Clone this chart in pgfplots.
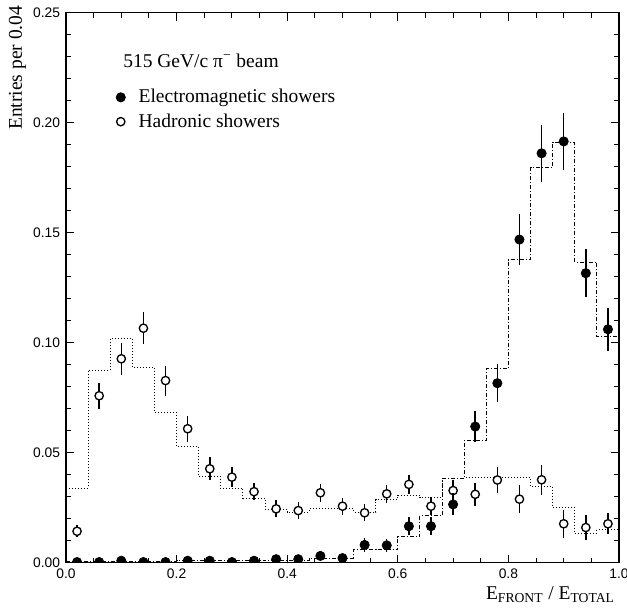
\documentclass[border=0pt]{standalone}
\usepackage{fontspec}
\setmainfont{Liberation Serif}
\newfontfamily\sansfont{Liberation Sans}
\usepackage{pgfplots}
\pgfplotsset{compat=1.18}

% Hadronic showers: measured points (x, entries, error)
\pgfplotstableread{
x    y      e
0.02 0.0142 0.0027
0.06 0.0758 0.0058
0.10 0.0926 0.0072
0.14 0.1065 0.0074
0.18 0.0827 0.0068
0.22 0.0608 0.0060
0.26 0.0426 0.0053
0.30 0.0388 0.0045
0.34 0.0322 0.0040
0.38 0.0244 0.0038
0.42 0.0236 0.0038
0.46 0.0317 0.0040
0.50 0.0256 0.0038
0.54 0.0226 0.0038
0.58 0.0312 0.0040
0.62 0.0355 0.0042
0.66 0.0256 0.0040
0.70 0.0327 0.0048
0.74 0.0310 0.0053
0.78 0.0375 0.0058
0.82 0.0288 0.0063
0.86 0.0376 0.0067
0.90 0.0176 0.0064
0.94 0.0159 0.0055
0.98 0.0176 0.0047
}\hadpts

% Electromagnetic showers: measured points (x, entries, error)
\pgfplotstableread{
x    y      e
0.02 0.0002 0.0
0.06 0.0002 0.0
0.10 0.0008 0.0
0.14 0.0002 0.0
0.18 0.0002 0.0
0.22 0.0008 0.0
0.26 0.0008 0.0
0.30 0.0002 0.0
0.34 0.0008 0.0
0.38 0.0015 0.0008
0.42 0.0015 0.0008
0.46 0.0030 0.0010
0.50 0.0020 0.0010
0.54 0.0080 0.0030
0.58 0.0078 0.0030
0.62 0.0165 0.0040
0.66 0.0165 0.0040
0.70 0.0264 0.0050
0.74 0.0618 0.0072
0.78 0.0815 0.0087
0.82 0.1468 0.0115
0.86 0.1860 0.0130
0.90 0.1914 0.0131
0.94 0.1315 0.0108
0.98 0.1060 0.0097
}\empts

% Simulated distributions, left bin edges (last row closes the final bin)
\pgfplotstableread{
x    y
0.00 0.0338
0.04 0.0873
0.08 0.1017
0.12 0.0888
0.16 0.0683
0.20 0.0529
0.24 0.0392
0.28 0.0335
0.32 0.0290
0.36 0.0240
0.40 0.0229
0.44 0.0244
0.48 0.0244
0.52 0.0229
0.56 0.0286
0.60 0.0306
0.64 0.0295
0.68 0.0382
0.72 0.0385
0.76 0.0385
0.80 0.0385
0.84 0.0347
0.88 0.0252
0.92 0.0133
0.96 0.0148
1.00 0.0148
}\hadmc

\pgfplotstableread{
x    y
0.00 0.0003
0.04 0.0003
0.08 0.0003
0.12 0.0003
0.16 0.0003
0.20 0.0008
0.24 0.0008
0.28 0.0008
0.32 0.0008
0.36 0.0010
0.40 0.0010
0.44 0.0020
0.48 0.0020
0.52 0.0058
0.56 0.0058
0.60 0.0118
0.64 0.0214
0.68 0.0380
0.72 0.0555
0.76 0.0880
0.80 0.1376
0.84 0.1794
0.88 0.1910
0.92 0.1365
0.96 0.1027
1.00 0.1027
}\emmc

\begin{document}
\begin{tikzpicture}
\begin{axis}[
  scale only axis, width=331.8pt, height=330pt,
  xmin=0, xmax=1, ymin=0, ymax=0.25,
  xtick={0,0.2,0.4,0.6,0.8,1.0}, minor x tick num=3,
  ytick={0,0.05,0.10,0.15,0.20,0.25}, minor y tick num=4,
  tick align=inside,
  major tick length=4.8pt, minor tick length=3pt,
  axis line style={line width=0.8pt},
  every tick/.style={line width=0.6pt, black},
  tick label style={font=\sansfont\fontsize{8.3}{10}\selectfont},
  /pgf/number format/assume math mode=true,
  xticklabel style={/pgf/number format/.cd, fixed, fixed zerofill, precision=1},
  yticklabel style={/pgf/number format/.cd, fixed, fixed zerofill, precision=2},
  xlabel={E\textsubscript{FRONT} / E\textsubscript{TOTAL}},
  ylabel={Entries per 0.04},
  xlabel style={at={(rel axis cs:0.993,-0.068)}, anchor=base east,
    font=\fontsize{11.7}{14}\selectfont, inner sep=0pt},
  ylabel style={at={(rel axis cs:-0.0796,1.0127)}, anchor=base east,
    font=\fontsize{11.7}{14}\selectfont, inner sep=0pt},
  clip marker paths=true,
  legend image code/.code={\draw[#1] plot coordinates {(0pt,0pt)};},
  legend style={at={(rel axis cs:0.09,0.867)}, anchor=north west,
    draw=none, fill=none, inner sep=0pt, row sep=1pt, column sep=5.9pt,
    font=\fontsize{11.7}{14}\selectfont},
  legend cell align=left,
]
\coordinate (SW) at (rel axis cs:0,0);
\coordinate (NE) at (rel axis cs:1,1);

\addlegendimage{only marks, mark=*, mark size=2.8pt, black}
\addlegendentry{Electromagnetic showers}
\addlegendimage{only marks, mark=*, mark size=2.5pt, black,
  mark options={fill=white, line width=0.8pt}}
\addlegendentry{Hadronic showers}

% simulated histograms
\addplot[const plot, black, line width=0.6pt,
  dash pattern=on 0.6pt off 1.2pt, forget plot] table[x=x, y=y] {\hadmc};
\addplot[const plot, black, line width=0.6pt,
  dash pattern=on 2.4pt off 1.2pt on 0.6pt off 1.2pt, forget plot]
  table[x=x, y=y] {\emmc};

% hadronic data
\addplot[only marks, black, mark=*, mark size=2.5pt,
  mark options={fill=white, line width=0.8pt}, forget plot,
  error bars/.cd, y dir=both, y explicit, error mark=none,
  error bar style={line width=0.9pt, black}]
  table[x=x, y=y, y error=e] {\hadpts};

% electromagnetic data
\addplot[only marks, black, mark=*, mark size=2.8pt, forget plot,
  error bars/.cd, y dir=both, y explicit, error mark=none,
  error bar style={line width=0.9pt, black}]
  table[x=x, y=y, y error=e] {\empts};

\node[anchor=base west, inner sep=0pt, font=\fontsize{11.7}{14}\selectfont]
  at (rel axis cs:0.103,0.9006) {515 GeV/c π\textsuperscript{−} beam};
\end{axis}
\pgfresetboundingbox
\path ([shift={(-39.6pt,-29.7pt)}]SW) rectangle ([shift={(4.8pt,7.5pt)}]NE);
\end{tikzpicture}
\end{document}
